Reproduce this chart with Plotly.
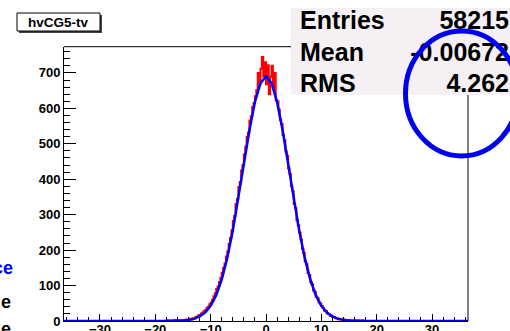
import numpy as np
import plotly.graph_objects as go

# ---------------- data ----------------
hist_title = "hvCG5-tv"
stat_labels = ["Entries", "Mean", "RMS"]
stat_values = ["58215", "-0.00672", "4.262"]

# histogram: bins of width 0.25 starting at -18.0
hist_lo = -18.0
hist_width = 0.25
hist_counts = [
    1, 2, 1, 0, 2, 1, 3, 1, 2, 1, 3, 2, 3, 2, 4, 3,
    4, 6, 5, 8, 8, 11, 12, 16, 17, 21, 24, 28, 31, 37, 40, 47,
    52, 60, 70, 78, 90, 97, 110, 122, 136, 150, 162, 182, 196, 218, 234, 256,
    282, 296, 330, 345, 378, 392, 425, 440, 470, 492, 520, 532, 566, 578, 604, 615,
    634, 652, 700, 668, 712, 745, 690, 730,
    668, 722, 640, 690, 720, 655, 700, 622,
    620, 596, 568, 556, 525, 510, 478, 466, 430, 415, 380, 366, 330, 318, 284, 270,
    250, 230, 203, 192, 168, 160, 136, 130, 110, 104, 86, 82, 68, 64, 52, 49,
    42, 37, 29, 28, 21, 20, 15, 15, 11, 11, 8, 8, 5, 6, 4, 4,
    4, 2, 3, 2, 3, 1, 2, 1, 2, 1, 2, 0, 1, 2, 0, 1,
]

# gaussian fit curve, read at integer points
fit_x = [-36.5, -16, -15, -14, -13, -12, -11, -10, -9, -8, -7, -6, -5, -4, -3, -2, -1,
         0, 1, 2, 3, 4, 5, 6, 7, 8, 9, 10, 11, 12, 13, 14, 15, 16, 36.5]
fit_y = [0, 0, 1, 3, 6, 13, 24, 43, 73, 117, 178, 255, 345, 443, 538, 618, 671,
         690, 671, 618, 538, 443, 345, 255, 178, 117, 73, 43, 24, 13, 6, 3, 1, 0, 0]

# fragments of slide text visible at the left edge
side_texts = ["ce", "e", "e"]

# ---------------- layout helpers ----------------
W, H = 510, 331


def px(x):
    return x / W


def py(y):
    return 1 - y / H


FRAME_L, FRAME_R, FRAME_T, FRAME_B = 64, 468, 46.7, 321
BOLD = dict(family="Liberation Sans, Arial, sans-serif", color="black", weight="bold")

centers = hist_lo + hist_width * (np.arange(len(hist_counts)) + 0.5)

fig = go.Figure()
fig.add_trace(go.Scatter(
    x=centers, y=hist_counts, mode="lines",
    line=dict(color="#ff0000", width=2, shape="hvh"),
    hoverinfo="skip", showlegend=False))
fig.add_trace(go.Scatter(
    x=fit_x, y=fit_y, mode="lines",
    line=dict(color="#0000ff", width=2.5),
    hoverinfo="skip", showlegend=False))

# stats text on a full-page helper subplot (so the circle shape can sit above it)
stat_rows_y = [22.5, 55, 86]
fig.add_trace(go.Scatter(
    x=[300] * 3, y=stat_rows_y, text=stat_labels, mode="text",
    textposition="middle right", textfont=dict(BOLD, size=25),
    xaxis="x2", yaxis="y2", hoverinfo="skip", showlegend=False))
fig.add_trace(go.Scatter(
    x=[509] * 3, y=stat_rows_y, text=stat_values, mode="text",
    textposition="middle left", textfont=dict(BOLD, size=25),
    xaxis="x2", yaxis="y2", hoverinfo="skip", showlegend=False))

axis_common = dict(
    showline=True, linecolor="black", linewidth=1, mirror=False,
    ticks="inside", tickcolor="black", tickwidth=1,
    showgrid=False, zeroline=False, fixedrange=True, automargin=False,
    tickfont=dict(BOLD, size=13),
)

shapes = [
    # stats box
    dict(type="rect", xref="paper", yref="paper", x0=px(291), x1=px(515),
         y0=py(95), y1=py(8), fillcolor="#f4f0f4", line=dict(width=0), layer="below"),
    # frame top and right segments
    dict(type="line", xref="paper", yref="paper", x0=px(FRAME_L), x1=px(291),
         y0=py(FRAME_T), y1=py(FRAME_T), line=dict(color="black", width=1), layer="below"),
    dict(type="line", xref="paper", yref="paper", x0=px(FRAME_R), x1=px(FRAME_R),
         y0=py(95), y1=py(FRAME_B), line=dict(color="black", width=1), layer="below"),
    # title box shadow + box
    dict(type="rect", xref="paper", yref="paper", x0=px(19), x1=px(102),
         y0=py(33), y1=py(15), fillcolor="#444444", line=dict(width=0), layer="below"),
    dict(type="rect", xref="paper", yref="paper", x0=px(17), x1=px(100),
         y0=py(31), y1=py(13), fillcolor="white", line=dict(color="black", width=1),
         layer="below"),
    # blue hand-drawn circle
    dict(type="circle", xref="paper", yref="paper", x0=px(405.5), x1=px(518),
         y0=py(156), y1=py(31), line=dict(color="#0000f0", width=5), layer="above"),
]

annotations = [
    dict(text=hist_title, xref="paper", yref="paper", x=px(58.5), y=py(22),
         xanchor="center", yanchor="middle", showarrow=False, font=dict(BOLD, size=13.5)),
    dict(text=side_texts[0], xref="paper", yref="paper", x=px(14.5), y=py(268),
         xanchor="right", yanchor="middle", showarrow=False,
         font=dict(BOLD, size=18, color="#0000ff")),
    dict(text=side_texts[1], xref="paper", yref="paper", x=px(13), y=py(302),
         xanchor="right", yanchor="middle", showarrow=False,
         font=dict(BOLD, size=18, color="black")),
    dict(text=side_texts[2], xref="paper", yref="paper", x=px(13), y=py(329),
         xanchor="right", yanchor="middle", showarrow=False,
         font=dict(BOLD, size=18, color="black")),
]

fig.update_layout(
    width=W, height=H, margin=dict(l=0, r=0, t=0, b=0, pad=0, autoexpand=False),
    paper_bgcolor="white", plot_bgcolor="rgba(0,0,0,0)",
    xaxis=dict(axis_common, domain=[px(FRAME_L), px(FRAME_R)], range=[-36.5, 36.5],
               dtick=10, tick0=0, ticklen=7, ticklabelstandoff=-4,
               minor=dict(ticks="inside", ticklen=4, dtick=2, tickcolor="black")),
    yaxis=dict(axis_common, domain=[py(FRAME_B), py(FRAME_T)], range=[0, 774],
               dtick=100, tick0=0, ticklen=12,
               minor=dict(ticks="inside", ticklen=6, dtick=20, tickcolor="black")),
    xaxis2=dict(domain=[0, 1], range=[0, W], visible=False, fixedrange=True,
                anchor="y2", automargin=False),
    yaxis2=dict(domain=[0, 1], range=[H, 0], visible=False, fixedrange=True,
                anchor="x2", automargin=False),
    shapes=shapes, annotations=annotations, showlegend=False,
)

fig.write_html(
    "out.html",
    config={"displayModeBar": False, "staticPlot": True},
    post_script="document.body.style.margin='0px';document.body.style.overflow='hidden';",
)
